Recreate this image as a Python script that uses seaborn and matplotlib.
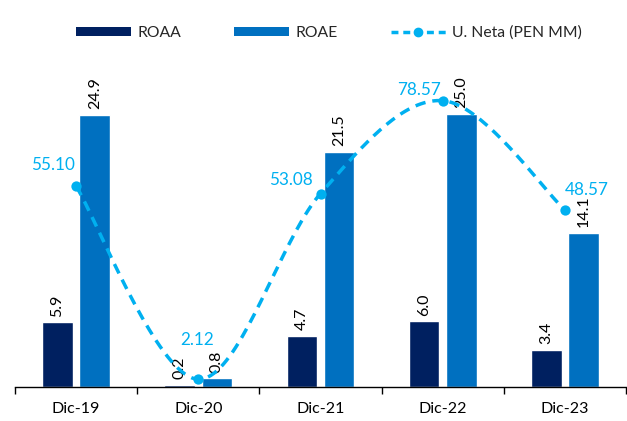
import numpy as np
import pandas as pd
import matplotlib
matplotlib.use("Agg")
import matplotlib.pyplot as plt
import seaborn as sns
from matplotlib.patches import Patch
from matplotlib.lines import Line2D

categories = ["Dic-19", "Dic-20", "Dic-21", "Dic-22", "Dic-23"]
roaa = [5.9, 0.2, 4.7, 6.0, 3.4]
roae = [24.9, 0.8, 21.5, 25.0, 14.1]
uneta = [55.10, 2.12, 53.08, 78.57, 48.57]
uneta_labels = ["55.10", "2.12", "53.08", "78.57", "48.57"]

C_ROAA = "#002060"
C_ROAE = "#0070C0"
C_LINE = "#00B0F0"

sns.set_theme(style="white")
plt.rcParams["font.family"] = ["Lato", "DejaVu Sans"]

fig = plt.figure(figsize=(6.27, 4.21), dpi=100)
ax = fig.add_axes([15/627, 1-387/421, 611/627, (387-59)/421])

df = pd.DataFrame({
    "cat": categories * 2,
    "val": roaa + roae,
    "serie": ["ROAA"] * 5 + ["ROAE"] * 5,
})
sns.barplot(data=df, x="cat", y="val", hue="serie", order=categories,
            hue_order=["ROAA", "ROAE"], palette=[C_ROAA, C_ROAE],
            width=0.61, gap=0.18, ax=ax, legend=False, saturation=1)

for cont in ax.containers:
    ax.bar_label(cont, fmt="%.1f", rotation=90, padding=4, fontsize=11.5, color="black")

ax.set_ylim(0, 30)
ax.set_xlim(-0.5, 4.5)
ax.set_yticks([])
ax.set_xlabel("")
ax.set_ylabel("")
for s in ["top", "right", "left"]:
    ax.spines[s].set_visible(False)
ax.spines["bottom"].set_color("black")
ax.spines["bottom"].set_linewidth(1.0)
ax.set_xticks(range(5))
ax.set_xticklabels(categories, fontsize=11.5, color="black")
ax.tick_params(axis="x", length=0, pad=11)
ax.set_xticks(np.arange(-0.5, 5.0, 1.0), minor=True)
ax.tick_params(axis="x", which="minor", length=5, width=1, color="black", direction="out", bottom=True)

# secondary axis for net income
ax2 = ax.twinx()
ax2.set_ylim(0, 90)
ax2.set_yticks([])
for s in ax2.spines.values():
    s.set_visible(False)

# Smoothed (Excel-like Bezier) curve through the data points
xs = np.arange(len(uneta), dtype=float)
ys = np.array(uneta, dtype=float)
px, py = [], []
n = len(xs)
for i in range(n - 1):
    p0 = np.array([xs[max(i-1, 0)], ys[max(i-1, 0)]])
    p1 = np.array([xs[i], ys[i]])
    p2 = np.array([xs[i+1], ys[i+1]])
    p3 = np.array([xs[min(i+2, n-1)], ys[min(i+2, n-1)]])
    c1 = p1 + (p2 - p0) / 6.0
    c2 = p2 - (p3 - p1) / 6.0
    t = np.linspace(0, 1, 40)[:, None]
    pts = (1-t)**3 * p1 + 3*(1-t)**2*t*c1 + 3*(1-t)*t**2*c2 + t**3*p2
    px.extend(pts[:, 0]); py.extend(pts[:, 1])
ax2.plot(px, py, color=C_LINE, lw=2.5, ls=(0, (3, 2)), zorder=3)
sns.scatterplot(x=xs, y=ys, color=C_LINE, s=55, ax=ax2, zorder=4, edgecolor=C_LINE, linewidth=0)

offsets = [(-17, 15), (-1, 28), (-21.5, 10), (-17, 8), (16, 14.5)]
for x, y, lab, off in zip(xs, ys, uneta_labels, offsets):
    ax2.annotate(lab, (x, y), xytext=off, textcoords="offset points",
                 ha="center", va="center", fontsize=12.3, color=C_LINE)

handles = [
    Patch(facecolor=C_ROAA, edgecolor="none"),
    Patch(facecolor=C_ROAE, edgecolor="none"),
    Line2D([0], [0], color=C_LINE, lw=2.5, ls=(0, (2, 1.4)), marker="o", markersize=6),
]
leg = fig.legend(handles, ["ROAA", "ROAE", "U. Neta (PEN MM)"], loc="center",
                 bbox_to_anchor=(329/627, 1-33/421), ncol=3, frameon=False,
                 fontsize=11.3, handlelength=3.5, handleheight=0.55,
                 handletextpad=0.4, columnspacing=3.4)

fig.savefig("out.png", dpi=100)
